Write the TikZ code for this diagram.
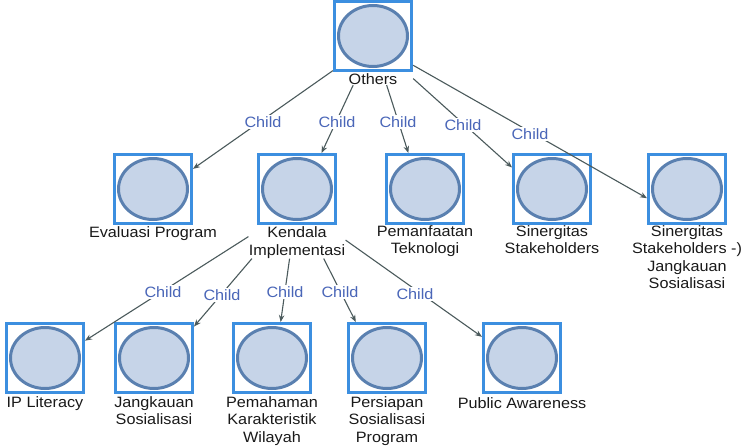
\documentclass[tikz,border=0pt]{standalone}
\usepackage{fontspec}
\setmainfont{Liberation Sans}[FakeStretch=1.08]
\usetikzlibrary{fit,arrows.meta,intersections}
\definecolor{sqblue}{HTML}{3C8FE0}
\definecolor{ellline}{HTML}{5A80B0}
\definecolor{ellfill}{HTML}{C6D4E8}
\definecolor{edgecol}{HTML}{4B5A5C}
\definecolor{childblue}{HTML}{4A66B8}
\newcommand\lblfont{\fontsize{15}{17.5}\selectfont}
% link from group #1G to square #2, aimed at the centre of group #2G
\newcommand\linkto[2]{%
  \path[name path=lnk] (#1G.center) -- (#2G.center);
  \path[name path=bx] (#2.south west) rectangle (#2.north east);
  \draw[arr, name intersections={of=lnk and bx, by=hit}] (#1G) -- (hit);
}
\begin{document}
\begin{tikzpicture}[x=1pt,y=-1pt,
  sq/.style={draw=sqblue, line width=3pt, fill=white, minimum width=77pt, minimum height=69pt, inner sep=0pt,
    path picture={\draw[draw=ellline, fill=ellfill, line width=3pt] (path picture bounding box.center) ellipse [x radius=34.5pt, y radius=30.5pt];}},
  lbl/.style={font=\lblfont, align=center, inner sep=0pt, anchor=north, text=black!90},
  grp/.style={inner sep=0pt},
  arr/.style={draw=edgecol, line width=1.1pt, -{Stealth[length=7pt,width=5.5pt]}},
  chl/.style={font=\lblfont, text=childblue, fill=white, inner sep=1pt}]
\useasboundingbox (0,0) rectangle (742,447);
% labels (anchor north = top of first line)
\node[lbl] (othl) at (373,73.5) {Others};
\node[lbl] (evl) at (153,226.5) {Evaluasi Program};
\node[lbl] (kel) at (297,226.5) {Kendala\\Implementasi};
\node[lbl] (pel) at (425,225) {Pemanfaatan\\Teknologi};
\node[lbl] (sil) at (552,225) {Sinergitas\\Stakeholders};
\node[lbl] (sjl) at (687,225) {Sinergitas\\Stakeholders -)\\Jangkauan\\Sosialisasi};
\node[lbl] (ipl) at (45,396) {IP Literacy};
\node[lbl] (jal) at (154,396) {Jangkauan\\Sosialisasi};
\node[lbl] (pml) at (272,396) {Pemahaman\\Karakteristik\\Wilayah};
\node[lbl] (psl) at (387,396) {Persiapan\\Sosialisasi\\Program};
\node[lbl] (pal) at (522,397) {Public Awareness};
% squares
\node[sq] (oth) at (373,36) {};
\node[sq] (ev) at (153,189) {};
\node[sq] (ke) at (297,189) {};
\node[sq] (pe) at (425,189) {};
\node[sq] (si) at (552,189) {};
\node[sq] (sj) at (687,189) {};
\node[sq] (ip) at (45,358) {};
\node[sq] (ja) at (154,358) {};
\node[sq] (pm) at (272,358) {};
\node[sq] (ps) at (387,358) {};
\node[sq] (pa) at (522,358) {};
% groups (square + label)
\node[grp, fit=(oth)(othl)] (othG) {};
\node[grp, fit=(ev)(evl)] (evG) {};
\node[grp, fit=(ke)(kel)] (keG) {};
\node[grp, fit=(pe)(pel)] (peG) {};
\node[grp, fit=(si)(sil)] (siG) {};
\node[grp, fit=(sj)(sjl)] (sjG) {};
\node[grp, fit=(ip)(ipl)] (ipG) {};
\node[grp, fit=(ja)(jal)] (jaG) {};
\node[grp, fit=(pm)(pml)] (pmG) {};
\node[grp, fit=(ps)(psl)] (psG) {};
\node[grp, fit=(pa)(pal)] (paG) {};
% edges
\linkto{oth}{ev}
\linkto{oth}{ke}
\linkto{oth}{pe}
\linkto{oth}{si}
\linkto{oth}{sj}
\linkto{ke}{ip}
\linkto{ke}{ja}
\linkto{ke}{pm}
\linkto{ke}{ps}
\linkto{ke}{pa}
% edge labels
\node[chl] (c1) at (263,122) {Child};
\node[chl] (c2) at (337,122) {Child};
\node[chl] (c3) at (398,122) {Child};
\node[chl] (c4) at (463,125) {Child};
\node[chl] (c5) at (530,134) {Child};
\node[chl] (c6) at (163,292) {Child};
\node[chl] (c7) at (222,295) {Child};
\node[chl] (c8) at (285,292) {Child};
\node[chl] (c9) at (340,292) {Child};
\node[chl] (c10) at (415,294) {Child};
\end{tikzpicture}
\end{document}
